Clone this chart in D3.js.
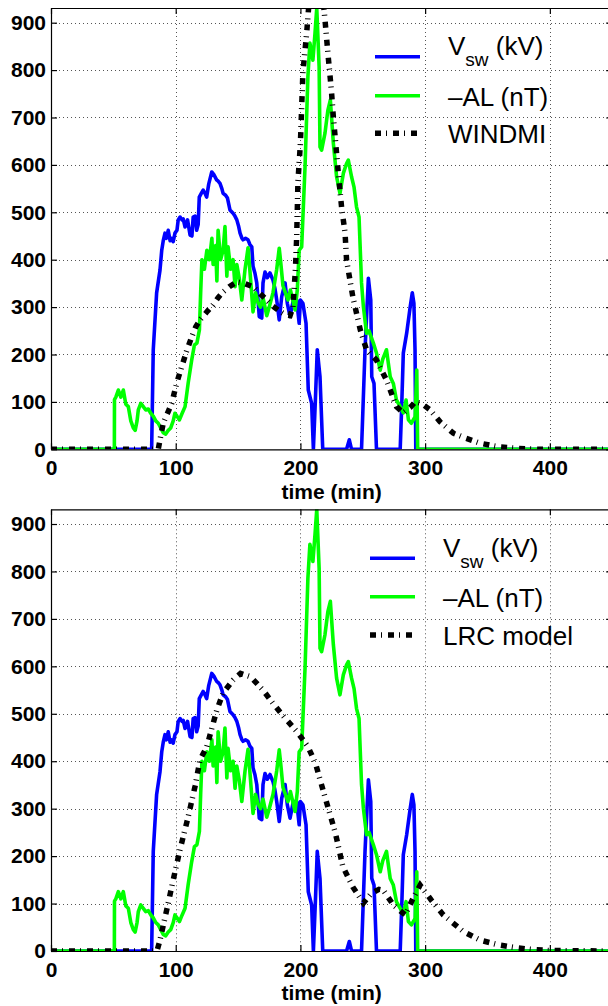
<!DOCTYPE html>
<html><head><meta charset="utf-8">
<script src="https://cdn.jsdelivr.net/npm/d3@7"></script>
<style>body{margin:0;background:#fff}svg{display:block}</style>
</head><body>
<script>
const xTicks = [0, 100, 200, 300, 400];
const yTicks = [0, 100, 200, 300, 400, 500, 600, 700, 800, 900];
const xDomain = [0, 450];
const yDomain = [0, 931];

// V_sw (kV) : [time (min), value]
const vswData = [[0,0],[80.7,0],[82,210],[84.7,330],[87.4,378],[88.8,420],[90,440],[91.4,456],[92.5,445],[94,462],[95.5,440],[96.8,445],[98,438],[99.4,456],[101,462],[102,484],[103.5,490],[105,484],[106,486],[107.5,469],[108.5,476],[109.5,484],[111.5,452],[113,450],[114,490],[115.5,492],[116.8,462],[118,474],[118.9,532],[120.5,540],[122,547],[123.5,540],[124.8,532],[126.5,560],[128.9,585],[130.5,580],[132.9,568],[134,566],[135.5,561],[137,550],[138,540],[140,536],[141.5,530],[143.5,505],[146,498],[147.5,492],[149,484],[150.5,470],[151.6,456],[153,446],[154,442],[156,445],[158,442],[159.5,432],[161,427],[162,386],[163.5,372],[165,351],[167,280],[169,277],[170,351],[171.6,374],[173.5,362],[175.6,372],[178,357],[179.5,340],[181,315],[183,273],[185,322],[187.7,351],[189.5,308],[191.7,280],[194.3,315],[197,315],[199,266],[200,315],[202,308],[204.5,266],[206.3,125],[209,97],[210.4,0],[212,104],[213.5,210],[215.7,153],[217.9,0],[237,0],[239.2,20],[241,0],[249,0],[251.8,210],[254.5,361],[256.4,315],[257.2,153],[259,139],[261,0],[280,0],[281.2,90],[282.5,203],[285.2,245],[288,300],[289.7,330],[291,308],[291.9,210],[292.5,0],[450,0]];

// -AL (nT)
const alData = [[0,0],[50.8,0],[50.9,105],[52,110],[54,125],[56,110],[58,125],[60,95],[62,90],[64,60],[66,45],[67.5,40],[69,60],[70,83],[72,97],[74,90],[76,83],[78,85],[80,76],[82,70],[84,60],[86,55],[88,45],[90,35],[92,32],[94,40],[96,45],[98,60],[99.4,76],[101,70],[103,62],[105,75],[107.5,90],[110,140],[112.8,188],[115,220],[117,224],[119,252],[120,330],[121,400],[123,380],[125,420],[127,400],[129,445],[130,390],[132,430],[133,355],[134,462],[136,400],[138,420],[139.5,470],[141,365],[142,427],[144,380],[146,400],[147.6,343],[149,390],[151,360],[153,315],[155.6,380],[158,425],[160,360],[162,290],[164,330],[166,310],[168,300],[170,320],[173,282],[175,300],[178,330],[181,380],[183,424],[184,400],[186,345],[188,330],[190,315],[192,336],[195.7,294],[197.5,336],[199,420],[201,427],[203.7,596],[206,786],[207.6,857],[210,821],[211.7,878],[213.1,931],[215,807],[215.7,638],[217,631],[219.7,667],[222,715],[224,737],[226.4,646],[229,575],[231.7,540],[234.4,582],[237,603],[238.4,610],[241,575],[243,553],[245,511],[247,490],[248,420],[249,351],[250.5,301],[253,245],[255,250],[258.5,224],[261,203],[264,167],[266,190],[269,210],[272,153],[274.5,139],[277,104],[280,90],[282.5,77],[284.7,104],[286.6,62],[289,55],[292,69],[293.3,167],[294,0],[450,0]];

// WINDMI model output
const windmiData = [[0,0],[86,0],[87.4,20],[90,55],[96.8,97],[100.8,140],[104.8,174],[108.8,208],[112.8,237],[116,258],[119.5,273],[125,290],[130,305],[134,320],[138,332],[143,343],[149,353],[155,350],[162,343],[167,330],[173,315],[178,302],[184,290],[188,284],[191.7,282],[194,300],[196,380],[197,448],[198,564],[200,646],[201,722],[202,796],[205,878],[206,912],[208,980],[211,1040],[214,1040],[217,980],[219.7,906],[221,867],[222.3,828],[223.7,789],[225,751],[226.4,701],[227.7,663],[229,624],[230.4,582],[233,511],[235.8,456],[237,399],[242,322],[248,252],[253,210],[261,188],[269,146],[277,90],[282.5,77],[288,88],[292,100],[297,97],[304,83],[312,58],[322.6,34],[332,24],[344,13],[359,5],[374,2],[390,0],[450,0]];

// LRC model output
const lrcData = [[0,0],[85,0],[87.4,23],[94,101],[98,150],[103.4,213],[110,283],[115.5,347],[119.5,403],[125,431],[129,470],[133,508],[138,544],[146,571],[152,585],[160,578],[170,550],[178,522],[187.7,491],[197,463],[206,431],[212,396],[220,322],[228,249],[234,178],[242,135],[250.5,101],[257,122],[263,130],[266.5,128],[274.5,97],[284,76],[290.5,112],[296,139],[305,107],[314.6,76],[330.6,41],[344,23],[358.7,13],[372.6,7],[387,3],[400,1],[450,0]];

const legendLabels = ["(kV)", "\u2013AL (nT)"];
const modelLabels = ["WINDMI", "LRC model"];
const modelSeries = [windmiData, lrcData];

const W = 608, H = 1006;
const svg = d3.select("body").append("svg").attr("width", W).attr("height", H);
svg.append("rect").attr("width", W).attr("height", H).attr("fill", "#fff");

const x = d3.scaleLinear().domain(xDomain).range([51, 612.2]);

const layouts = [
  {top: 8, bottom: 449.3, legX1: 375, legX2: 420, legText: 448, legY: [56.7, 95.7, 133.3], textY: [55, 106, 143.3], titleY: 499},
  {top: 509.3, bottom: 951, legX1: 370, legX2: 415, legText: 443, legY: [558.3, 596.7, 635], textY: [556.7, 606.7, 645], titleY: 1000}
];

const FONT = "'Liberation Sans', Arial, Helvetica, sans-serif";
const DASH = "6,5,1,6";

layouts.forEach((L, i) => {
  const y = d3.scaleLinear().domain(yDomain).range([L.bottom, L.top]);
  const g = svg.append("g");
  const clipId = "clip" + i;
  g.append("clipPath").attr("id", clipId).append("rect")
    .attr("x", x(0)).attr("y", L.top).attr("width", x(450) - x(0)).attr("height", L.bottom - L.top);

  // grid
  const grid = g.append("g").attr("stroke", "#555").attr("stroke-width", 1).attr("stroke-dasharray", "1,3");
  grid.selectAll(".hg").data(yTicks.filter(d => d > 0)).join("line")
    .attr("x1", x(0)).attr("x2", x(450)).attr("y1", d => Math.round(y(d)) + 0.5).attr("y2", d => Math.round(y(d)) + 0.5);
  grid.selectAll(".vg").data(xTicks.filter(d => d > 0)).join("line")
    .attr("y1", L.top).attr("y2", L.bottom).attr("x1", d => Math.round(x(d)) + 0.5).attr("x2", d => Math.round(x(d)) + 0.5);

  const line = d3.line().x(d => x(d[0])).y(d => y(d[1]));
  const plot = g.append("g").attr("clip-path", `url(#${clipId})`).attr("fill", "none").attr("stroke-linejoin", "round");
  plot.append("path").datum(vswData).attr("d", line).attr("stroke", "#0000ff").attr("stroke-width", 3.6);
  plot.append("path").datum(alData).attr("d", line).attr("stroke", "#00ff00").attr("stroke-width", 3.6);
  plot.append("path").datum(modelSeries[i]).attr("d", line).attr("stroke", "#000").attr("stroke-width", 5.5)
    .attr("stroke-dasharray", DASH).attr("stroke-linejoin", "miter");

  // axes
  const axL = g.append("g").attr("transform", `translate(${x(0)},0)`)
    .call(d3.axisLeft(y).tickValues(yTicks).tickSize(-6).tickSizeOuter(0).tickPadding(5));
  const axB = g.append("g").attr("transform", `translate(0,${L.bottom})`)
    .call(d3.axisBottom(x).tickValues(xTicks).tickSize(-6).tickSizeOuter(0).tickPadding(11));
  const axT = g.append("g").attr("transform", `translate(0,${L.top})`)
    .call(d3.axisTop(x).tickValues(xTicks).tickSize(-6).tickSizeOuter(0).tickFormat(""));
  const axR = g.append("g").attr("transform", `translate(${x(450)},0)`)
    .call(d3.axisRight(y).tickValues(yTicks).tickSize(-6).tickSizeOuter(0).tickFormat(""));
  [axL, axB, axT, axR].forEach(a => {
    a.selectAll("path,line").attr("stroke", "#000").attr("stroke-width", 1.2);
    a.selectAll("text").attr("font-family", FONT).attr("font-weight", "bold").attr("font-size", 21).attr("fill", "#000");
  });

  g.append("text").attr("x", (x(0) + x(450)) / 2).attr("y", L.titleY).attr("text-anchor", "middle")
    .attr("font-family", FONT).attr("font-weight", "bold").attr("font-size", 21).text("time (min)");

  // legend
  const leg = g.append("g").attr("font-family", FONT).attr("font-size", 26).attr("fill", "#000");
  const styles = [
    {stroke: "#0000ff", w: 3.6, dash: null},
    {stroke: "#00ff00", w: 3.6, dash: null},
    {stroke: "#000", w: 5.5, dash: DASH}
  ];
  styles.forEach((s, k) => {
    const ln = leg.append("line").attr("x1", L.legX1).attr("x2", L.legX2).attr("y1", L.legY[k]).attr("y2", L.legY[k])
      .attr("stroke", s.stroke).attr("stroke-width", s.w);
    if (s.dash) ln.attr("stroke-dasharray", s.dash);
  });
  const t0 = leg.append("text").attr("x", L.legText).attr("y", L.textY[0]);
  t0.append("tspan").text("V");
  t0.append("tspan").attr("font-size", 19).attr("dy", 11).text("sw");
  t0.append("tspan").attr("dy", -11).text(" " + legendLabels[0]);
  leg.append("text").attr("x", L.legText).attr("y", L.textY[1]).text(legendLabels[1]);
  leg.append("text").attr("x", L.legText).attr("y", L.textY[2]).text(modelLabels[i]);
});
</script>
</body></html>
